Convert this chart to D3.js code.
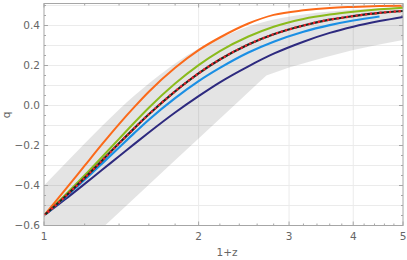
<!DOCTYPE html>
<html>
<head>
  <meta charset="UTF-8">
  <script src="https://d3js.org/d3.v7.min.js"></script>
  <style>
    body { margin: 0; background: #fff; }
    text { font-family: "DejaVu Sans", sans-serif; fill: #666; }
  </style>
</head>
<body>
<script>
// values
var zs = [1, 1.1, 1.2, 1.3, 1.4, 1.5, 1.6, 1.8, 2, 2.2, 2.5, 2.8, 3.2, 3.6, 4, 4.5, 5];
var qOrange = [-0.55, -0.421, -0.301, -0.191, -0.093, -0.007, 0.069, 0.189, 0.277, 0.340, 0.410, 0.453, 0.476, 0.488, 0.493, 0.497, 0.499];
var qGreen  = [-0.55, -0.447, -0.349, -0.255, -0.167, -0.085, -0.011, 0.110, 0.202, 0.272, 0.345, 0.394, 0.433, 0.455, 0.469, 0.481, 0.489];
var qRed    = [-0.55, -0.455, -0.362, -0.273, -0.189, -0.113, -0.044, 0.071, 0.161, 0.230, 0.305, 0.356, 0.400, 0.429, 0.447, 0.463, 0.4725];
var qBlue   = [-0.55, -0.4585, -0.3715, -0.288, -0.210, -0.137, -0.071, 0.037, 0.122, 0.188, 0.265, 0.319, 0.369, 0.402, 0.425, 0.445];
var qNavy   = [-0.55, -0.469, -0.392, -0.320, -0.254, -0.192, -0.135, -0.035, 0.047, 0.116, 0.196, 0.259, 0.319, 0.363, 0.394, 0.422, 0.443];

var bandUpper = [-0.40, -0.29, -0.19, -0.10, -0.02, 0.05, 0.11, 0.21, 0.285, 0.337, 0.395, 0.43, 0.455, 0.47, 0.48, 0.487, 0.492];
var lowZ = [1, 1.2, 1.4, 1.6, 1.8, 2, 2.2, 2.4, 2.6, 2.71, 3, 3.5, 4, 4.5, 5];
var bandLower = [-0.884, -0.694, -0.535, -0.396, -0.274, -0.165, -0.066, 0.024, 0.107, 0.15, 0.19, 0.239, 0.278, 0.305, 0.328];

var xTicks = [1, 2, 3, 4, 5];
var xMinor = [1.2, 1.4, 1.6, 1.8, 2.2, 2.4, 2.6, 2.8, 3.2, 3.4, 3.6, 3.8, 4.2, 4.4, 4.6, 4.8];
var yTicks = [-0.6, -0.4, -0.2, 0.0, 0.2, 0.4];
var yGrid = [-0.5, -0.4, -0.3, -0.2, -0.1, 0.0, 0.1, 0.2, 0.3, 0.4, 0.5];

var W = 407, H = 260;
var pLeft = 44, pRight = 403, pTop = 3.5, pBottom = 225.5;

var x = d3.scaleLog().domain([1, 5]).range([pLeft, pRight]);
var y = d3.scaleLinear().domain([-0.6, 0.51]).range([pBottom, pTop]);

var svg = d3.select('body').append('svg')
  .attr('width', W).attr('height', H);

svg.append('clipPath').attr('id', 'clip')
  .append('rect').attr('x', pLeft).attr('y', pTop)
  .attr('width', pRight - pLeft).attr('height', pBottom - pTop);

// grid
svg.append('g').selectAll('line').data(yGrid).enter().append('line')
  .attr('x1', pLeft).attr('x2', pRight)
  .attr('y1', function (d) { return y(d); }).attr('y2', function (d) { return y(d); })
  .style('stroke', '#ebebeb').style('stroke-width', 1);
svg.append('g').selectAll('line').data([2, 3, 4]).enter().append('line')
  .attr('y1', pTop).attr('y2', pBottom)
  .attr('x1', function (d) { return x(d); }).attr('x2', function (d) { return x(d); })
  .style('stroke', '#ebebeb').style('stroke-width', 1);

var plot = svg.append('g').attr('clip-path', 'url(#clip)');

// gray band
var upLine = d3.line()
  .x(function (d, i) { return x(zs[i]); })
  .y(function (d) { return y(d); })
  .curve(d3.curveMonotoneX);
var lowPts = lowZ.map(function (z, i) { return [x(z), y(bandLower[i])]; }).reverse();
var lowPath = d3.line()(lowPts).replace(/^M/, 'L');
plot.append('path')
  .attr('d', upLine(bandUpper) + lowPath + 'Z')
  .style('fill', '#000').style('fill-opacity', 0.105).style('stroke', 'none');

function curveFor(vals) {
  return d3.line()
    .x(function (d, i) { return x(zs[i]); })
    .y(function (d) { return y(d); })
    .curve(d3.curveMonotoneX)(vals);
}

plot.append('path').attr('d', curveFor(qNavy))
  .style('fill', 'none').style('stroke', '#2e2a7f').style('stroke-width', 2);
plot.append('path').attr('d', curveFor(qBlue))
  .style('fill', 'none').style('stroke', '#1b8fe4').style('stroke-width', 2.2);
plot.append('path').attr('d', curveFor(qGreen))
  .style('fill', 'none').style('stroke', '#8abb1c').style('stroke-width', 2);
plot.append('path').attr('d', curveFor(qOrange))
  .style('fill', 'none').style('stroke', '#fb6a1a').style('stroke-width', 2);
// black dotted + red dashed on top of each other
plot.append('path').attr('d', curveFor(qRed))
  .style('fill', 'none').style('stroke', '#1e2a22').style('stroke-width', 2.2);
plot.append('path').attr('d', curveFor(qRed))
  .style('fill', 'none').style('stroke', '#f2202a').style('stroke-width', 2.2)
  .style('stroke-dasharray', '2.2,2.6');

// frame
svg.append('rect').attr('x', pLeft).attr('y', pTop)
  .attr('width', pRight - pLeft).attr('height', pBottom - pTop)
  .style('fill', 'none').style('stroke', '#a6a6a6').style('stroke-width', 1);

var ticks = svg.append('g').style('stroke', '#a6a6a6').style('stroke-width', 1);
function xt(d, len) {
  ticks.append('line').attr('x1', x(d)).attr('x2', x(d)).attr('y1', pBottom).attr('y2', pBottom - len);
  ticks.append('line').attr('x1', x(d)).attr('x2', x(d)).attr('y1', pTop).attr('y2', pTop + len);
}
function yt(d, len) {
  ticks.append('line').attr('y1', y(d)).attr('y2', y(d)).attr('x1', pLeft).attr('x2', pLeft + len);
  ticks.append('line').attr('y1', y(d)).attr('y2', y(d)).attr('x1', pRight).attr('x2', pRight - len);
}
xTicks.forEach(function (d) { xt(d, 4); });
xMinor.forEach(function (d) { xt(d, 2); });
yTicks.forEach(function (d) { yt(d, 4); });
d3.range(-0.55, 0.51, 0.05).forEach(function (d) {
  if (!yTicks.some(function (t) { return Math.abs(t - d) < 1e-6; })) yt(d, 2);
});

// labels
svg.append('g').selectAll('text').data(yTicks).enter().append('text')
  .attr('x', pLeft - 4).attr('y', function (d) { return y(d); })
  .attr('dy', '0.35em').style('text-anchor', 'end').style('font-size', '10.5px')
  .text(function (d) { return d3.format('.1f')(d).replace('-', '\u2212'); });

svg.append('g').selectAll('text').data(xTicks).enter().append('text')
  .attr('x', function (d) { return x(d); }).attr('y', 240)
  .style('text-anchor', 'middle').style('font-size', '10.5px')
  .text(function (d) { return d; });

svg.append('text')
  .attr('x', 227).attr('y', 256)
  .style('text-anchor', 'middle').style('font-size', '10.5px')
  .text('1+z');

svg.append('text')
  .attr('transform', 'translate(10,115) rotate(-90)')
  .style('text-anchor', 'middle').style('font-size', '10.5px')
  .text('q');
</script>
</body>
</html>
